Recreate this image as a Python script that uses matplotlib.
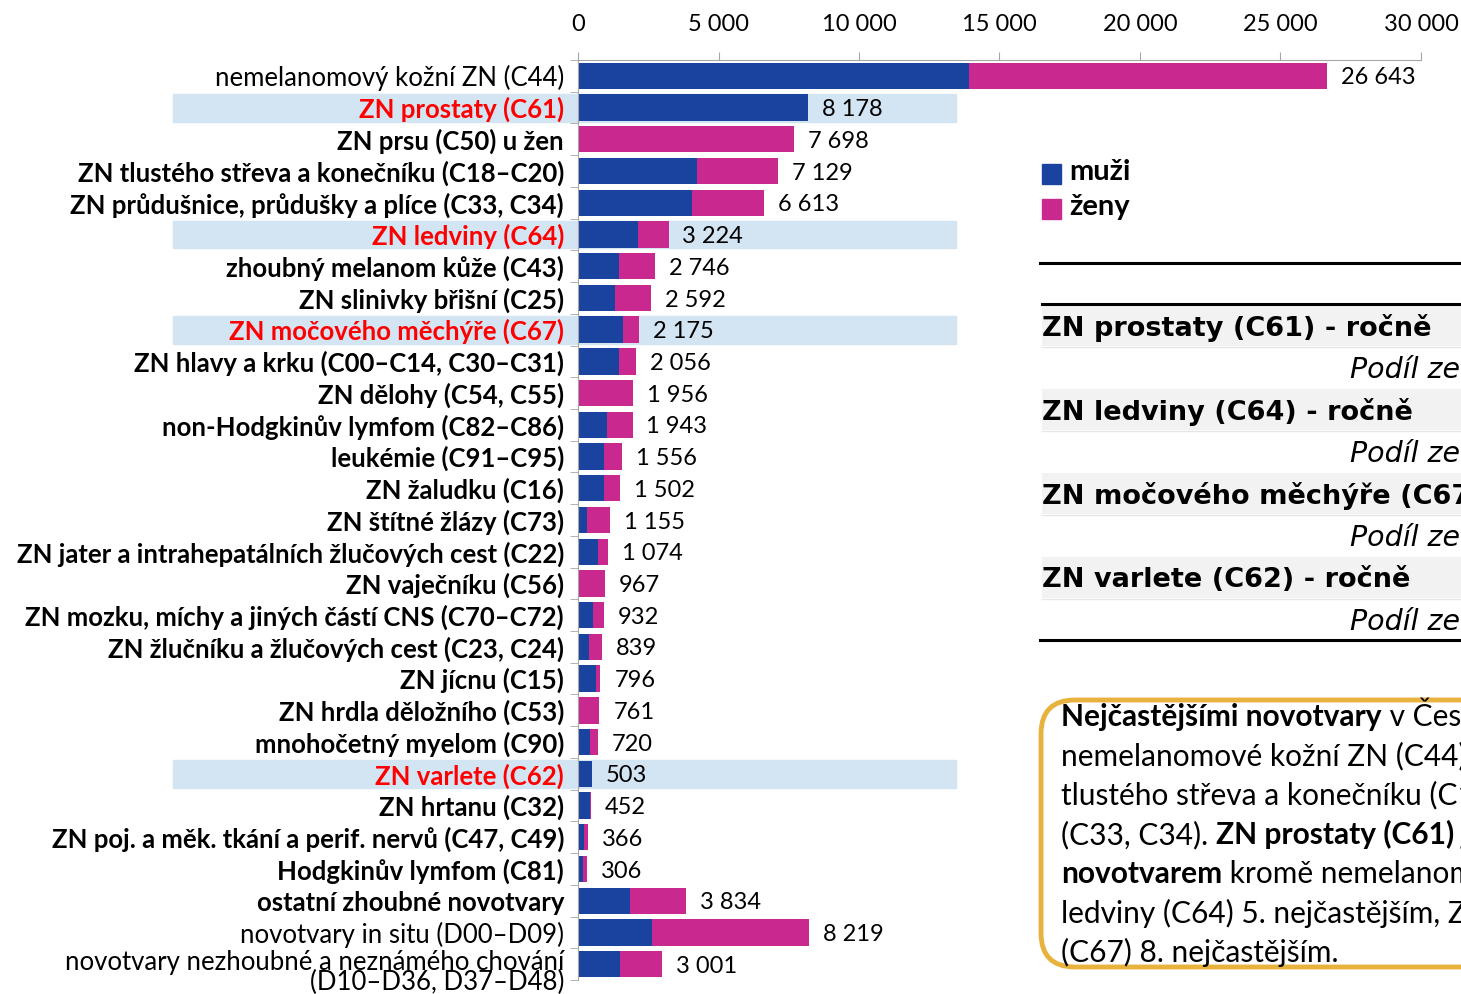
import matplotlib
matplotlib.use("Agg")
import matplotlib.pyplot as plt
import matplotlib.patches as mpatches
import numpy as np

#%% data (incidence, muži / ženy)

labels = ["nemelanomový kožní ZN (C44)",
          "ZN prostaty (C61)",
          "ZN prsu (C50) u žen",
          "ZN tlustého střeva a konečníku (C18–C20)",
          "ZN průdušnice, průdušky a plíce (C33, C34)",
          "ZN ledviny (C64)",
          "zhoubný melanom kůže (C43)",
          "ZN slinivky břišní (C25)",
          "ZN močového měchýře (C67)",
          "ZN hlavy a krku (C00–C14, C30–C31)",
          "ZN dělohy (C54, C55)",
          "non-Hodgkinův lymfom (C82–C86)",
          "leukémie (C91–C95)",
          "ZN žaludku (C16)",
          "ZN štítné žlázy (C73)",
          "ZN jater a intrahepatálních žlučových cest (C22)",
          "ZN vaječníku (C56)",
          "ZN mozku, míchy a jiných částí CNS (C70–C72)",
          "ZN žlučníku a žlučových cest (C23, C24)",
          "ZN jícnu (C15)",
          "ZN hrdla děložního (C53)",
          "mnohočetný myelom (C90)",
          "ZN varlete (C62)",
          "ZN hrtanu (C32)",
          "ZN poj. a měk. tkání a perif. nervů (C47, C49)",
          "Hodgkinův lymfom (C81)",
          "ostatní zhoubné novotvary",
          "novotvary in situ (D00–D09)",
          "novotvary nezhoubné a neznámého chování\n(D10–D36, D37–D48)"]

muzi = [13900, 8178, 0, 4220, 4060, 2125, 1470, 1330, 1615, 1450, 0, 1030, 915, 910,
        310, 710, 0, 520, 390, 640, 0, 415, 503, 420, 215, 165, 1850, 2620, 1495]
zeny = [12743, 0, 7698, 2909, 2553, 1099, 1276, 1262, 560, 606, 1956, 913, 641, 592,
        845, 364, 967, 412, 449, 156, 761, 305, 0, 32, 151, 141, 1984, 5599, 1506]

highlight = [1, 5, 8, 22]          # radky zvyraznene cervene
normal_weight = [0, 27, 28]        # radky bez tucneho pisma

xticks = [0, 5000, 10000, 15000, 20000, 25000, 30000]

table_rows = ["ZN prostaty (C61) - ročně",
              "ZN ledviny (C64) - ročně",
              "ZN močového měchýře (C67) - ročně",
              "ZN varlete (C62) - ročně"]

text_lines = [[("Nejčastějšími novotvary", "bold"), (" v České republice jsou", "normal")],
              [("nemelanomové kožní ZN (C44), ZN prostaty (C61), ZN prsu (C50), ZN", "normal")],
              [("tlustého střeva a konečníku (C18–C20) a ZN průdušnice, průdušky a plíce", "normal")],
              [("(C33, C34). ", "normal"), ("ZN prostaty (C61) je nejčastějším", "bold")],
              [("novotvarem", "bold"), (" kromě nemelanomových kožních ZN, ZN", "normal")],
              [("ledviny (C64) 5. nejčastějším, ZN močového měchýře", "normal")],
              [("(C67) 8. nejčastějším.", "normal")]]

#%% style

c_muzi = "#1a43a0"
c_zeny = "#c9298f"
c_band = "#d3e4f3"
c_axis = "#a6a6a6"
lab_font = ["Lato", "DejaVu Sans"]

plt.rcParams['font.family'] = lab_font

fig = plt.figure(figsize=(14.61, 9.94), dpi=100)
ax = fig.add_axes([578 / 1461, 1 - 980 / 994, 843 / 1461, 920 / 994])

y = np.arange(len(labels))
muzi = np.array(muzi)
zeny = np.array(zeny)
totals = muzi + zeny

ax.barh(y, muzi, height=0.83, color=c_muzi, zorder=2)
ax.barh(y, zeny, left=muzi, height=0.83, color=c_zeny, zorder=2)

# podbarveni zvyraznenych radku (i pod popiskem)
for i in highlight:
    ax.axhspan(i - 0.44, i + 0.44, xmin=-0.4804, xmax=0.4484, color=c_band,
               zorder=0, clip_on=False)

for i, tot in enumerate(totals):
    ax.annotate(f"{tot:,}".replace(",", " "), xy=(tot, i), xytext=(10, -1.5),
                textcoords="offset points", va="center", ha="left", fontsize=17)

ax.set_xlim(0, 30000)
ax.set_ylim(len(labels) - 0.5, -0.5)

ax.xaxis.tick_top()
ax.set_xticks(xticks)
ax.set_xticklabels([f"{t:,}".replace(",", " ") for t in xticks], fontsize=17)
ax.tick_params(axis="x", length=6, color=c_axis, pad=12)

# posledni (dvouradkovy) popisek se kresli zvlast, aby sel niz
ax.set_yticks(y)
ax.set_yticklabels(labels[:-1] + [""], fontsize=18.5)
ax.set_yticks(np.arange(-0.5, len(labels), 1), minor=True)
ax.tick_params(axis="y", which="major", length=0, pad=10)
ax.tick_params(axis="y", which="minor", length=6, color=c_axis)

ax.annotate(labels[-1], xy=(0, y[-1]), xytext=(-10, -6), textcoords="offset points",
            ha="right", va="center", multialignment="right", fontsize=18.5,
            linespacing=0.72, annotation_clip=False)

for i, t in enumerate(ax.get_yticklabels()):
    if i not in normal_weight:
        t.set_fontweight("bold")
    if i in highlight:
        t.set_color("#ff0000")

for s in ["bottom", "right"]:
    ax.spines[s].set_visible(False)
for s in ["top", "left"]:
    ax.spines[s].set_color(c_axis)

#%% prava cast - legenda, tabulka, textovy ramecek (v pixelech)

ov = fig.add_axes([0, 0, 1, 1])
ov.set_xlim(0, 1461)
ov.set_ylim(994, 0)
ov.axis("off")

ov.add_patch(mpatches.Rectangle((1042, 164), 19, 20, color=c_muzi))
ov.add_patch(mpatches.Rectangle((1042, 199), 19, 20, color=c_zeny))
ov.text(1069, 172, "muži", fontsize=21, fontweight="bold", va="center")
ov.text(1069, 207, "ženy", fontsize=21, fontweight="bold", va="center")

ov.plot([1040, 1461], [263, 263], color="black", lw=2.2)
ov.plot([1042, 1461], [304, 304], color="black", lw=2.2)
ov.plot([1040, 1461], [640, 640], color="black", lw=2.2)

for k, row in enumerate(table_rows):
    top = 305 + k * 84
    ov.add_patch(mpatches.Rectangle((1042, top), 430, 41, color="#f2f2f2", lw=0))
    ov.plot([1042, 1461], [top + 42, top + 42], color="#e6e6e6", lw=1)
    ov.text(1042, top + 23, row, fontsize=19.5, fontweight="bold", va="center",
            family="DejaVu Sans")
    ov.text(1350, top + 65, "Podíl ze všech novotvarů", fontsize=20.5, style="italic",
            va="center", family="DejaVu Sans")

ov.add_patch(mpatches.FancyBboxPatch((1041, 700), 520, 267,
                                     boxstyle="round,pad=0,rounding_size=34",
                                     fc="none", ec="#e8b23e", lw=3.5))

for k, line in enumerate(text_lines):
    yy = 717 + k * 39.3
    prev = None
    for seg, w in line:
        if prev is None:
            prev = ov.text(1061, yy, seg, fontsize=21.5, fontweight=w, va="center")
        else:
            prev = ov.annotate(seg, xy=(1, 0), xycoords=prev, va="bottom",
                               fontsize=21.5, fontweight=w)

fig.savefig("out.png", dpi=100)
